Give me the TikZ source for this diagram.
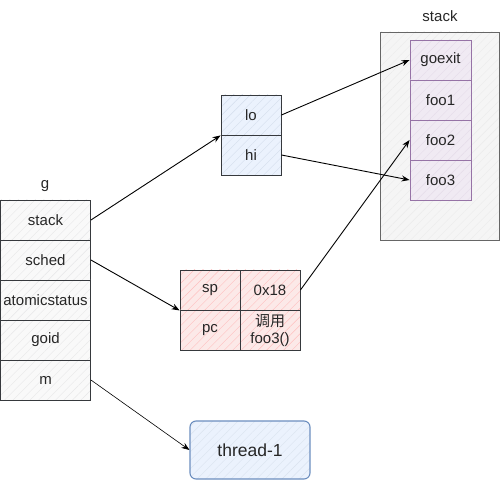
\documentclass[tikz,border=0pt]{standalone}
\usepackage{fontspec}
\setmainfont{Liberation Sans}
\newfontfamily\cjk{Noto Sans CJK SC}
\usetikzlibrary{arrows.meta,patterns.meta}
\definecolor{gfill}{HTML}{F5F5F5}
\definecolor{gline}{HTML}{36393D}
\definecolor{bfill}{HTML}{DAE8FC}
\definecolor{bline}{HTML}{6C8EBF}
\definecolor{rfill}{HTML}{F8CECC}
\definecolor{pfill}{HTML}{E1D5E7}
\definecolor{pline}{HTML}{9673A6}
\definecolor{oline}{HTML}{666666}
\tikzset{
  txt/.style={font=\fontsize{15}{17}\selectfont, text=black!85},
  cell/.style={txt, draw=gline, line width=0.9pt, minimum width=90pt, minimum height=40pt, inner sep=0pt},
  gcell/.style={cell, preaction={fill=gfill!60}, pattern={Lines[angle=45,distance=6pt,line width=0.4pt]}, pattern color=gline!12},
  bcell/.style={cell, minimum width=60pt, preaction={fill=bfill!55}, pattern={Lines[angle=45,distance=6pt,line width=0.4pt]}, pattern color=bline!30},
  rcell/.style={cell, minimum width=60pt, preaction={fill=rfill!45}, pattern={Lines[angle=45,distance=6pt,line width=0.4pt]}, pattern color=red!25},
  pcell/.style={cell, draw=pline, minimum width=61pt, preaction={fill=pfill!50}, pattern={Lines[angle=45,distance=6pt,line width=0.4pt]}, pattern color=pline!25},
  arr/.style={-{Stealth[length=8pt,width=6pt]}, line width=0.9pt, black},
  lbl/.style={txt}
}
\begin{document}
\begin{tikzpicture}[x=1pt,y=-1pt]
\useasboundingbox (0,0) rectangle (501,481);
% stack outer box
\node[draw=oline, line width=0.9pt, minimum width=119pt, minimum height=208pt, inner sep=0pt,
  preaction={fill=gfill}, pattern={Lines[angle=45,distance=6pt,line width=0.4pt]}, pattern color=black!8]
  (stk) at (439.5,136) {};
\node[lbl] (stklbl) at (440,16) {stack};
\node[pcell] (goexit) at (440.5,60) {goexit};
\node[pcell] (foo1) at (440.5,100) {foo1};
\node[pcell] (foo2) at (440.5,140) {foo2};
\node[pcell] (foo3) at (440.5,180) {foo3};
% g column
\node[lbl] (glbl) at (45,186) {g};
\node[gcell] (gstack) at (45.5,220) {stack};
\node[gcell] (gsched) at (45.5,260) {sched};
\node[gcell] (gatom) at (45.5,300) {atomicstatus};
\node[gcell] (ggoid) at (45.5,340) {goid};
\node[gcell] (gm) at (45.5,380) {m};
% lo / hi
\node[bcell] (lo) at (251,115) {lo};
\node[bcell] (hi) at (251,155) {hi};
% sp / pc table
\node[rcell] (sp) at (210,290) {sp};
\node[rcell] (hex) at (270,290) {0x18};
\node[rcell] (pc) at (210,330) {pc};
\node[rcell, align=center, font=\fontsize{15}{17}\selectfont] (call) at (270,330) {{\cjk 调用}\\foo3()};
% thread
\node[txt, draw=bline, line width=1.1pt, rounded corners=6pt, minimum width=120pt, minimum height=58pt,
  preaction={fill=bfill!55}, pattern={Lines[angle=45,distance=6pt,line width=0.4pt]}, pattern color=bline!25,
  font=\fontsize{17.5}{20}\selectfont] (thread) at (250,450) {thread-1};
% connectors
\draw[arr] (gstack.east) -- (lo.south west);
\draw[arr] (gsched.east) -- (sp.south west);
\draw[arr, line width=0.6pt] (gm.east) -- (thread.west);
\draw[arr] (lo.east) -- (goexit.west);
\draw[arr] (hi.east) -- (foo3.west);
\draw[arr] (hex.east) -- (foo2.west);
\end{tikzpicture}
\end{document}
